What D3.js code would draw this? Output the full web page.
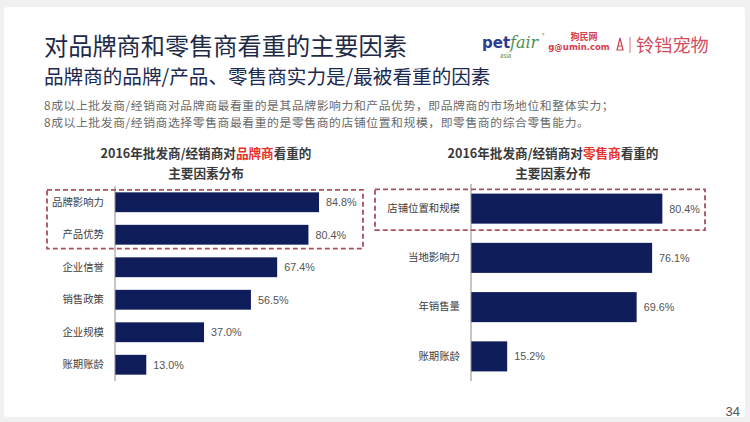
<!DOCTYPE html>
<html>
<head>
<meta charset="utf-8">
<script src="https://cdn.jsdelivr.net/npm/d3@7"></script>
<style>
  body { margin: 0; background: #f1f1f1; }
  svg { display: block; font-family: "Noto Sans CJK SC", "Noto Sans", sans-serif; }
</style>
</head>
<body>
<script>
// Chart data
const brandFactors = ["品牌影响力", "产品优势", "企业信誉", "销售政策", "企业规模", "账期账龄"];
const brandValues = [84.8, 80.4, 67.4, 56.5, 37.0, 13.0];
const retailFactors = ["店铺位置和规模", "当地影响力", "年销售量", "账期账龄"];
const retailValues = [80.4, 76.1, 69.6, 15.2];

const width = 750;
const height = 422;
const barColor = "#101d5b";
const boxColor = "#a9515f";
const fmt = d => d3.format(".1f")(d) + "%";

const svg = d3.select("body")
    .append("svg")
    .attr("width", width)
    .attr("height", height);

// slide background
svg.append("rect")
    .attr("x", 4).attr("y", 7)
    .attr("width", 741).attr("height", 410)
    .attr("rx", 4)
    .attr("fill", "#ffffff");

// Header texts
svg.append("text")
    .attr("x", 44).attr("y", 55)
    .attr("font-size", 24.2)
    .attr("fill", "#1e2a46")
    .text("对品牌商和零售商看重的主要因素");

svg.append("text")
    .attr("x", 44).attr("y", 84)
    .attr("font-size", 19.6)
    .attr("fill", "#1b2a50")
    .text("品牌商的品牌/产品、零售商实力是/最被看重的因素");

// two-line note
const bodyLines = [
    "8成以上批发商/经销商对品牌商最看重的是其品牌影响力和产品优势，即品牌商的市场地位和整体实力；",
    "8成以上批发商/经销商选择零售商最看重的是零售商的店铺位置和规模，即零售商的综合零售能力。"
];
svg.selectAll("text.body")
    .data(bodyLines)
    .enter()
    .append("text")
    .attr("class", "body")
    .attr("x", 44)
    .attr("y", (d, i) => 109.5 + i * 17.1)
    .attr("font-size", 11.8)
    .attr("letter-spacing", 0.6)
    .attr("fill", "#6a6a6a")
    .text(d => d);

// Logos (text approximations)
const logo = svg.append("g");
logo.append("text")
    .attr("x", 482).attr("y", 48)
    .attr("font-family", "DejaVu Sans, sans-serif")
    .attr("font-weight", "bold")
    .attr("font-size", 15)
    .attr("fill", "#2c3d8f")
    .text("pet");
logo.append("text")
    .attr("x", 510).attr("y", 48)
    .attr("font-family", "DejaVu Serif, serif")
    .attr("font-style", "italic")
    .attr("font-size", 16)
    .attr("fill", "#4f8f55")
    .text("fair");
logo.append("text")
    .attr("x", 542).attr("y", 37)
    .attr("font-size", 5)
    .attr("fill", "#4f8f55")
    .text("®");
logo.append("text")
    .attr("x", 500).attr("y", 58)
    .attr("font-size", 6)
    .attr("fill", "#4f8f55")
    .text("asia");
logo.append("text")
    .attr("x", 584).attr("y", 40)
    .attr("text-anchor", "middle")
    .attr("font-size", 9)
    .attr("font-weight", "bold")
    .attr("fill", "#d0404f")
    .text("狗民网");
logo.append("text")
    .attr("x", 579).attr("y", 50)
    .attr("text-anchor", "middle")
    .attr("font-family", "DejaVu Sans, sans-serif")
    .attr("font-size", 8.5)
    .attr("font-weight", "bold")
    .attr("fill", "#d0404f")
    .text("g@umin.com");
logo.append("path")
    .attr("d", "M617,50 L620,38 L623,50 Z M618.5,46 L621.5,46")
    .attr("fill", "none")
    .attr("stroke", "#d0404f")
    .attr("stroke-width", 1.2);
logo.append("line")
    .attr("x1", 630).attr("x2", 630)
    .attr("y1", 37).attr("y2", 53)
    .attr("stroke", "#d67784")
    .attr("stroke-width", 1);
logo.append("text")
    .attr("x", 636).attr("y", 52)
    .attr("font-size", 18.2)
    .attr("fill", "#d24d5e")
    .text("铃铛宠物");

// Page number
svg.append("text")
    .attr("x", 740).attr("y", 416)
    .attr("text-anchor", "end")
    .attr("font-family", "Liberation Sans, sans-serif")
    .attr("font-size", 13)
    .attr("fill", "#555")
    .text("34");

// Bar chart builder
function drawChart(opts) {
    const g = svg.append("g");

    // chart title, two lines with highlighted word
    const t = g.append("text")
        .attr("x", opts.titleX)
        .attr("y", 158)
        .attr("text-anchor", "middle")
        .attr("font-size", 12.6)
        .attr("font-weight", "bold")
        .attr("fill", "#3a3a3a");
    t.append("tspan").text("2016年批发商/经销商对");
    t.append("tspan").attr("fill", "#e8302c").text(opts.highlight);
    t.append("tspan").text("看重的");
    g.append("text")
        .attr("x", opts.titleX)
        .attr("y", 178)
        .attr("text-anchor", "middle")
        .attr("font-size", 12.6)
        .attr("font-weight", "bold")
        .attr("fill", "#3a3a3a")
        .text("主要因素分布");

    const x = d3.scaleLinear()
        .domain([0, 100])
        .range([opts.x0, opts.x0 + opts.pxPer100]);
    const y = d3.scaleBand()
        .domain(opts.cats)
        .range(opts.yRange)
        .paddingInner(0.39)
        .paddingOuter(0.195);

    const rows = opts.cats.map((c, i) => ({ cat: c, val: opts.vals[i] }));

    g.selectAll("rect.bar")
        .data(rows)
        .enter()
        .append("rect")
        .attr("class", "bar")
        .attr("x", x(0))
        .attr("y", d => y(d.cat))
        .attr("width", d => x(d.val) - x(0))
        .attr("height", y.bandwidth())
        .attr("fill", barColor);

    g.selectAll("text.val")
        .data(rows)
        .enter()
        .append("text")
        .attr("class", "val")
        .attr("x", d => x(d.val) + 7)
        .attr("y", d => y(d.cat) + y.bandwidth() / 2)
        .attr("dy", "0.36em")
        .attr("font-family", "Liberation Sans, sans-serif")
        .attr("font-size", 10.8)
        .attr("fill", "#555")
        .text(d => fmt(d.val));

    // category axis
    const axis = g.append("g")
        .attr("transform", `translate(${x(0)},0)`)
        .call(d3.axisLeft(y).tickSize(0).tickPadding(11));
    axis.select(".domain")
        .attr("stroke", "#8c8c8c")
        .attr("d", `M0,${opts.yRange[0]}V${opts.yRange[1]}`);
    axis.selectAll(".tick text")
        .attr("font-family", "Noto Sans CJK SC, sans-serif")
        .attr("font-size", 10.4)
        .attr("fill", "#404040");

    // dashed highlight box round the top rows
    const top = y(opts.cats[0]) - opts.boxPad[0];
    const bottom = y(opts.cats[opts.boxRows - 1]) + y.bandwidth() + opts.boxPad[1];
    g.append("rect")
        .attr("x", opts.boxX[0])
        .attr("y", top)
        .attr("width", opts.boxX[1] - opts.boxX[0])
        .attr("height", bottom - top)
        .attr("fill", "none")
        .attr("stroke", boxColor)
        .attr("stroke-width", 1.8)
        .attr("stroke-dasharray", "5,3");
}

drawChart({
    cats: brandFactors,
    vals: brandValues,
    highlight: "品牌商",
    titleX: 206,
    x0: 115,
    pxPer100: 240.6,
    yRange: [186, 381],
    boxRows: 2,
    boxPad: [2.5, 4],
    boxX: [47, 363]
});

drawChart({
    cats: retailFactors,
    vals: retailValues,
    highlight: "零售商",
    titleX: 553,
    x0: 471,
    pxPer100: 238,
    yRange: [184, 381],
    boxRows: 1,
    boxPad: [4.3, 6.4],
    boxX: [375, 705]
});
</script>
</body>
</html>
